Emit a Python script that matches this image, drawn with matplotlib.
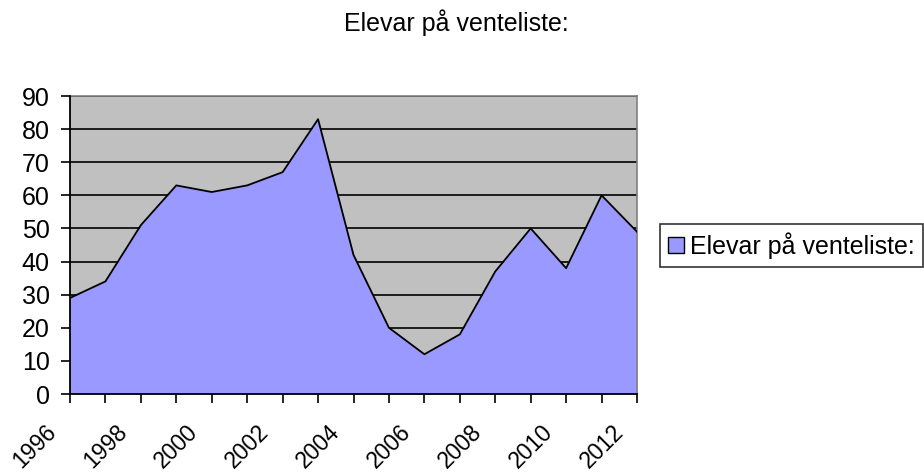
import numpy as np
import matplotlib.pyplot as plt
from matplotlib.patches import Patch
from matplotlib.transforms import ScaledTranslation

plt.rcParams['font.family'] = ['Liberation Sans', 'DejaVu Sans']

# Data
years = list(range(1996, 2013))
values = [29, 34, 51, 63, 61, 63, 67, 83, 42, 20, 12, 18, 37, 50, 38, 60, 49]
tick_labels = [str(y) if y % 2 == 0 else '' for y in years]
y_ticks = list(range(0, 100, 10))
series_name = 'Elevar på venteliste:'

fill_color = '#9999FF'
plot_bg = '#C0C0C0'

fig = plt.figure(figsize=(9.24, 4.76), dpi=100)
ax = fig.add_axes([70 / 924, 1 - 394 / 476, 567 / 924, 298 / 476])
ax.set_facecolor(plot_bg)

ax.fill_between(years, values, 0, color=fill_color, zorder=2, linewidth=0)
ax.plot(years, values, color='black', linewidth=1.3, zorder=3)

ax.set_xlim(years[0], years[-1])
ax.set_ylim(0, 90)
ax.set_yticks(y_ticks)
ax.set_xticks(years)
ax.set_xticklabels(tick_labels, rotation=45, ha='right', va='center',
                   rotation_mode='anchor')
ax.yaxis.grid(True, color='black', linewidth=1.2, zorder=1)
ax.set_axisbelow(True)

ax.tick_params(axis='both', colors='black', direction='out',
               length=6.5, width=1.2)
ax.tick_params(axis='x', pad=18, labelsize=16.5)
ax.tick_params(axis='y', pad=8, labelsize=18)

# shift the rotated year labels to the left, as in the original
shift = ScaledTranslation(-0.17, 0, fig.dpi_scale_trans)
for lab in ax.get_xticklabels():
    lab.set_transform(lab.get_transform() + shift)

for side in ['left', 'bottom']:
    ax.spines[side].set_color('black')
    ax.spines[side].set_linewidth(1.3)
    ax.spines[side].set_zorder(4)
for side in ['top', 'right']:
    ax.spines[side].set_color('#808080')
    ax.spines[side].set_linewidth(1.2)

fig.text(0.494, 1 - 31 / 476, series_name, ha='center', va='baseline', fontsize=18)

handle = Patch(facecolor=fill_color, edgecolor='black', linewidth=1)
leg = fig.legend([handle], [series_name], loc='upper left',
                 bbox_to_anchor=(660 / 924, 1 - 224 / 476), fontsize=18,
                 frameon=True, fancybox=False, edgecolor='black',
                 handlelength=0.65, handleheight=0.65, handletextpad=0.25,
                 borderpad=0.32, borderaxespad=0)
leg.get_frame().set_linewidth(1.2)

fig.savefig('out.png', dpi=100)
